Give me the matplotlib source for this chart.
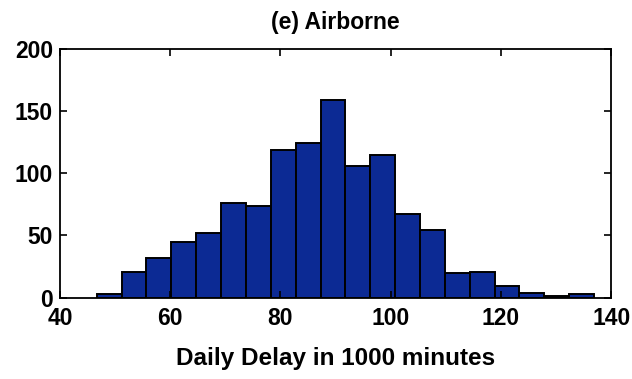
import matplotlib.pyplot as plt
import numpy as np

# histogram counts (20 bins)
counts = [3, 21, 32, 45, 52, 76, 74, 119, 124, 159,
          106, 115, 67, 54, 20, 21, 9, 4, 1, 3]
bin_lo, bin_hi = 46.65, 136.9
xticks = [40, 60, 80, 100, 120, 140]
yticks = [0, 50, 100, 150, 200]

plt.rcParams['font.family'] = ['Liberation Sans', 'DejaVu Sans']
plt.rcParams['font.weight'] = 'bold'

edges = np.linspace(bin_lo, bin_hi, len(counts) + 1)

fig = plt.figure(figsize=(6.32, 3.79), dpi=100)
ax = fig.add_axes([0.095, 0.2145, 0.872, 0.657])

ax.bar(edges[:-1], counts, width=np.diff(edges), align='edge',
       color='#0c2a94', edgecolor='black', linewidth=1.4)

ax.set_xlim(40, 140)
ax.set_ylim(0, 200)
ax.set_xticks(xticks)
ax.set_yticks(yticks)
ax.tick_params(direction='in', length=5, width=1.2, top=True, right=True,
               labelsize=16.5)
ax.tick_params(axis='x', pad=7)
ax.tick_params(axis='y', pad=5)
for s in ax.spines.values():
    s.set_linewidth(1.3)

ax.set_title('(e) Airborne', fontsize=16.5, fontweight='bold', pad=14)
ax.set_xlabel('Daily Delay in 1000 minutes', fontsize=17.5,
              fontweight='bold', labelpad=12)

fig.savefig('out.png', dpi=100)
